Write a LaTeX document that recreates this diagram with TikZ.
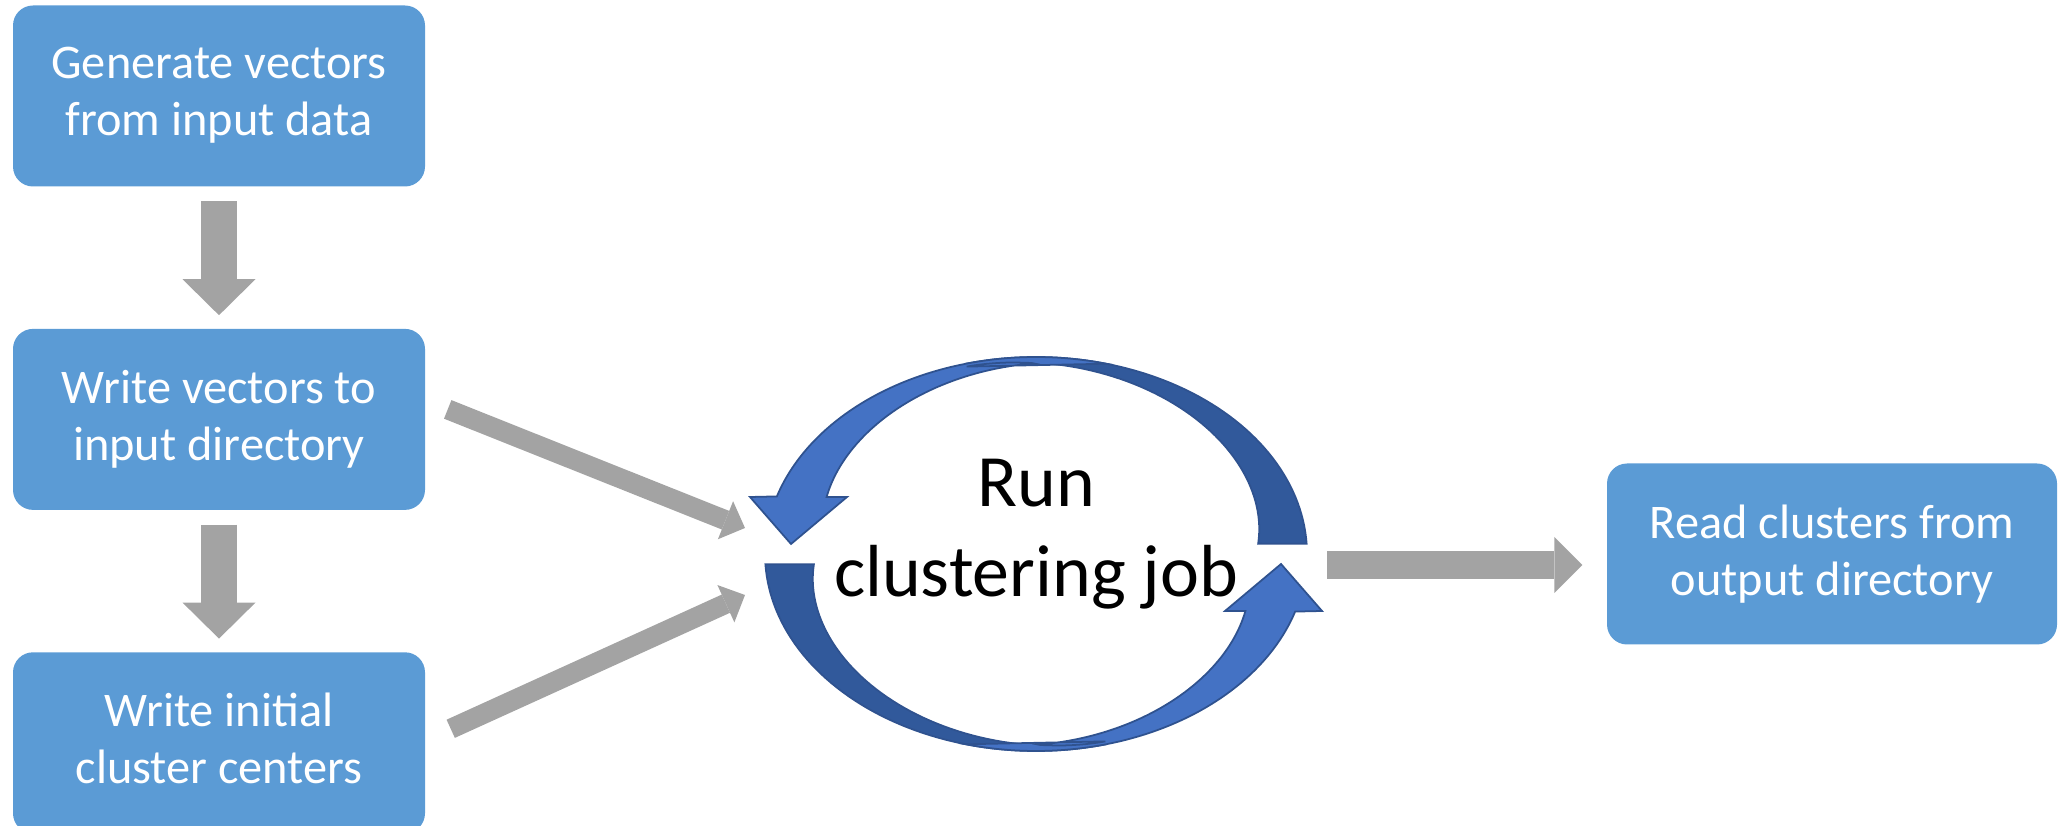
\documentclass[tikz,border=0pt]{standalone}
\usepackage{fontspec}
\setmainfont{Carlito}
\usetikzlibrary{arrows.meta,positioning}
\definecolor{boxblue}{HTML}{5B9BD5}
\definecolor{ringblue}{HTML}{4472C4}
\definecolor{ringdark}{HTML}{31599B}
\definecolor{ringedge}{HTML}{2F528F}
\definecolor{pipegray}{HTML}{A3A3A3}

\begin{document}
\begin{tikzpicture}[
  x=0.1mm, y=-0.1mm,
  node distance=1.41cm and 1.3cm,
  stage/.style={fill=boxblue, rounded corners=2mm, align=center, minimum width=4.12cm, minimum height=1.81cm, text=white, font=\fontsize{13.75}{16.2}\selectfont, execute at begin node={\rule{0pt}{11.5pt}}, execute at end node={\rule[-2.4pt]{0pt}{0pt}}},
  jobtext/.style={align=center, text=black, font=\fontsize{21}{25.6}\selectfont},
  lightband/.style={fill=ringblue, draw=ringedge, line width=0.5pt, line join=miter},
  darkband/.style={fill=ringdark, draw=ringedge, line width=0.5pt},
  drop/.style={draw=pipegray, line width=3.6mm, -{Triangle[width=7.3mm, length=3.6mm, line width=0pt]}, shorten <=1.4mm, shorten >=1.3mm},
  feed/.style={draw=pipegray, line width=2mm, -{Triangle[width=4.1mm, length=2.1mm, line width=0pt]}},
  pass/.style={draw=pipegray, line width=2.8mm, -{Triangle[width=5.6mm, length=2.8mm, line width=0pt]}},
  halfloop/.pic={
    \draw[darkband] plot[domain=105:3, samples=60] ({271*cos(\x)}, {-197*sin(\x)})
      -- plot[domain=4:105, samples=60] ({(271-3-46*((105-\x)/102)^1.5)*cos(\x)}, {-(197-3-46*((105-\x)/102)^1.5)*sin(\x)}) -- cycle;
    \draw[lightband] plot[domain=75:163, samples=60] ({271*cos(\x)}, {-197*sin(\x)})
      -- (-286,-57) -- (-245,-10) -- (-189,-57)
      -- plot[domain=158:75, samples=60] ({-(271-3-46*((\x-75)/88)^1.5)*abs(cos(\x))}, {-(197-3-46*((\x-75)/88)^1.5)*sin(\x)}) -- cycle;
  }
]
  \useasboundingbox (0,0) rectangle (2060,826);

  \node[stage] (gen) at (219,96) {Generate vectors\\from input data};
  \node[stage, below=of gen] (write) {Write vectors to\\input directory};
  \node[stage, below=of write] (init) {Write initial\\cluster centers};

  \coordinate (hub) at (1036,554);
  \pic at (hub) {halfloop};
  \pic[rotate=180] at (hub) {halfloop};
  \node[jobtext] (job) at ([shift={(0,-20)}]hub) {Run\\clustering job};

  \node[stage, minimum width=4.5cm] (read) at (1832,554) {Read clusters from\\output directory};

  \coordinate (tipA) at (745,528);
  \coordinate (tipB) at (745,595);
  \coordinate (outA) at (1327,565);

  \draw[drop] (gen) -- (write);
  \draw[drop] (write) -- (init);
  \draw[feed] ([shift={(22,-10)}]write.east) -- (tipA);
  \draw[feed] ([shift={(25,-14)}]init.east) -- (tipB);
  \draw[pass, shorten >=2.4mm] (outA) -- (outA -| read.west);
\end{tikzpicture}
\end{document}
